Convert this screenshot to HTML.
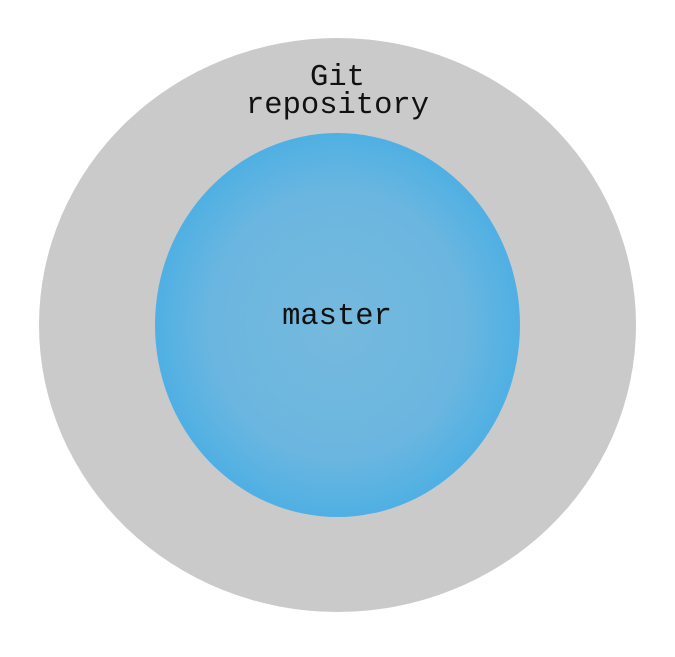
<!DOCTYPE html>
<html><head><meta charset="utf-8"><style>
html,body{margin:0;padding:0;background:#fff;}
</style></head><body>
<svg width="675" height="652" viewBox="0 0 675 652" xmlns="http://www.w3.org/2000/svg">
<defs>
<radialGradient id="g" cx="50%" cy="50%" r="50%">
<stop offset="0" stop-color="#76b9dd"/>
<stop offset="0.7" stop-color="#6ab6e0"/>
<stop offset="1" stop-color="#4fb0e3"/>
</radialGradient>
</defs>
<ellipse cx="337.5" cy="325" rx="298.5" ry="287" fill="#cacaca"/>
<ellipse cx="337.5" cy="325" rx="182.5" ry="192" fill="url(#g)"/>
<g font-family="Liberation Mono, monospace" font-size="30.5" fill="#111" text-anchor="middle">
<text x="337.5" y="85">Git</text>
<text x="337.5" y="113">repository</text>
<text x="337" y="324">master</text>
</g>
</svg>
</body></html>
